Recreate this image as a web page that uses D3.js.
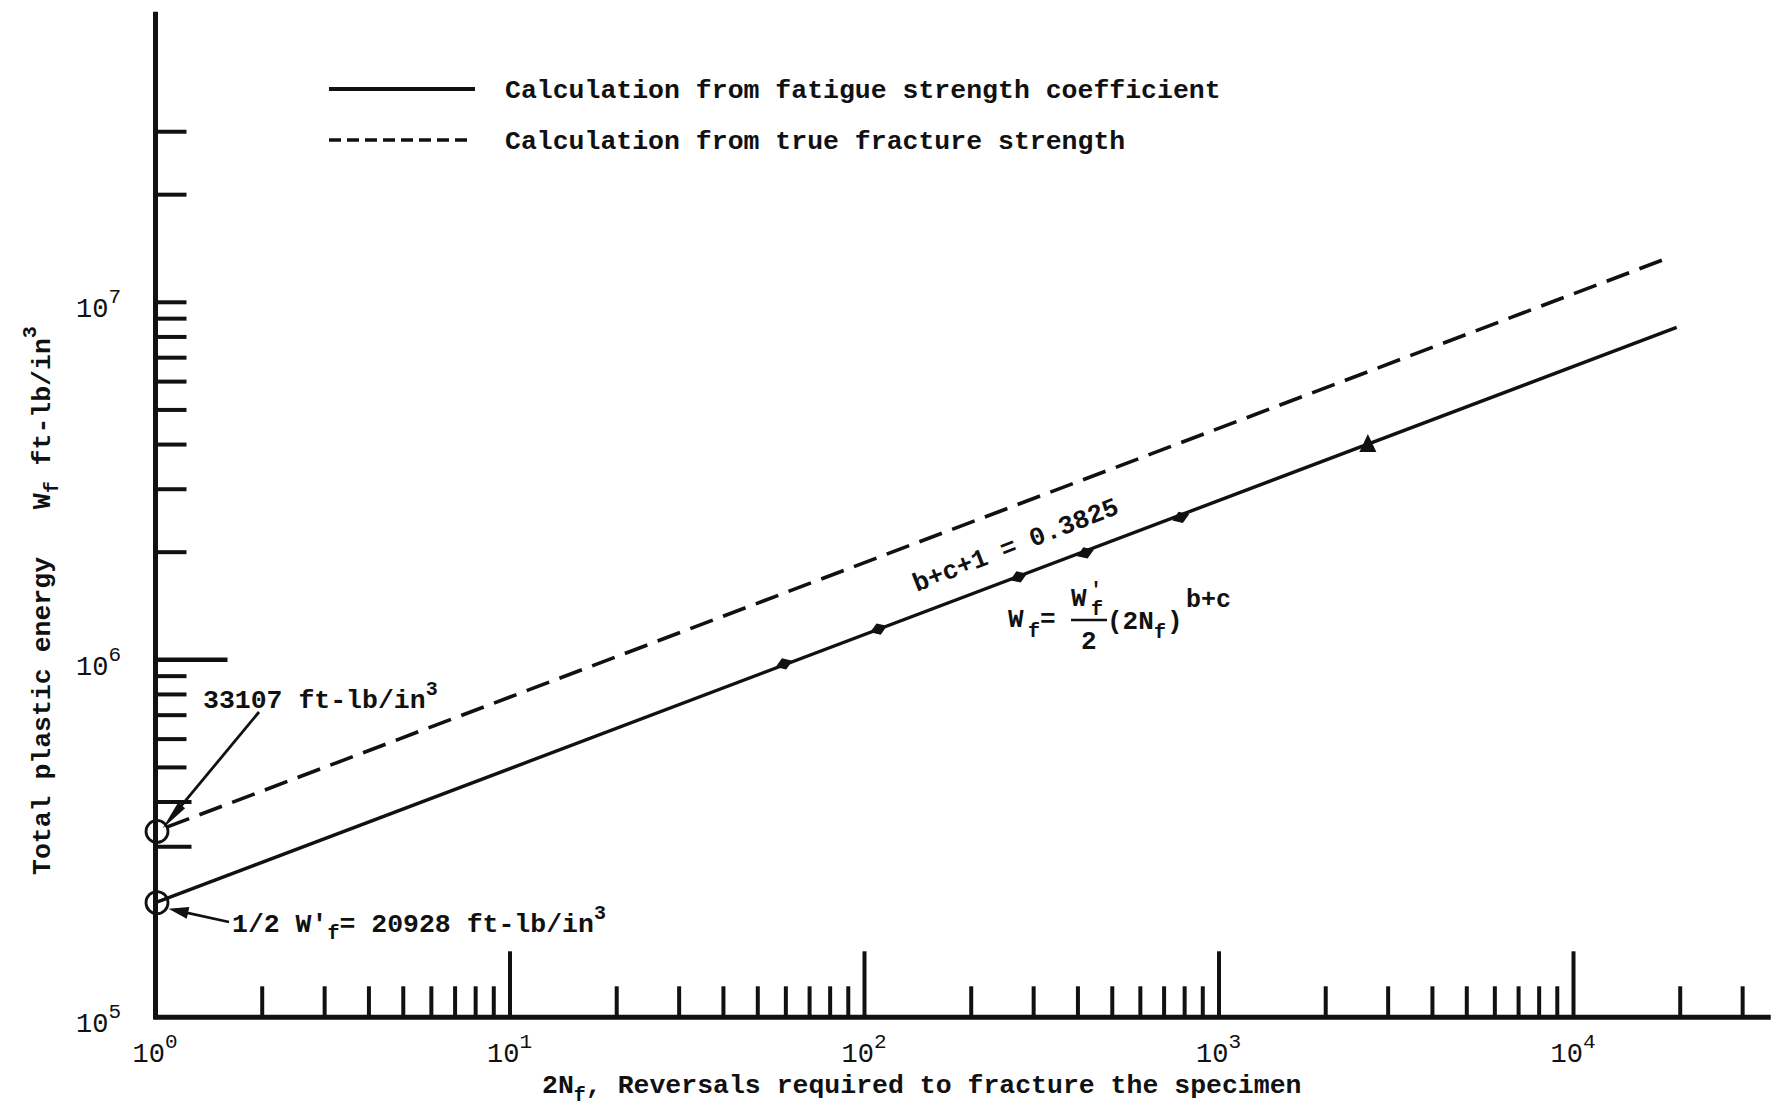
<!DOCTYPE html>
<html>
<head>
<meta charset="utf-8">
<script src="https://cdn.jsdelivr.net/npm/d3@7"></script>
<style>
  html, body { margin: 0; padding: 0; background: #fff; }
  svg text { font-family: "Liberation Mono", "DejaVu Sans Mono", monospace; fill: #111; white-space: pre; }
</style>
</head>
<body>
<svg id="chart" width="1781" height="1107"></svg>
<script>
// ---------------- data ----------------
const legendLabels = ["Calculation from fatigue strength coefficient", "Calculation from true fracture strength"];

// solid line: calculation from fatigue strength coefficient
const solidN = [1, 19540];
const solidW = [209280, 8510000];
// dashed line: calculation from true fracture strength
const dashedN = [1, 18380];
const dashedW = [331070, 13280000];

// data points on the solid line
const pointN = [59.3, 109.6, 272, 420, 780, 2630];
const pointW = [974000, 1219000, 1705000, 1990000, 2503000, 4014000];
const pointShape = ["diamond", "diamond", "diamond", "diamond", "diamond", "triangle"];

// axis ticks
const xMajorTicks = [10, 100, 1000, 10000];
const xMinorTicks = [2, 3, 4, 5, 6, 7, 8, 9,
                     20, 30, 40, 50, 60, 70, 80, 90,
                     200, 300, 400, 500, 600, 700, 800, 900,
                     2000, 3000, 4000, 5000, 6000, 7000, 8000, 9000,
                     20000, 30000];
const xTickValues = [1, 10, 100, 1000, 10000];
const xTickExponents = ["0", "1", "2", "3", "4"];

const yLongTicks = [1000000];
const yTicks = [300000, 400000, 500000, 600000, 700000, 800000, 900000,
                2000000, 3000000, 4000000, 5000000, 6000000, 7000000, 8000000, 9000000,
                10000000, 20000000, 30000000];
const yTickValues = [100000, 1000000, 10000000];
const yTickExponents = ["5", "6", "7"];

const annotUpper = "33107 ft-lb/in";
const annotLowerA = "1/2 W'";
const annotLowerB = "= 20928 ft-lb/in";
const slopeLabel = "b+c+1 = 0.3825";
const xTitle = ["2N", "f", ", Reversals required to fracture the specimen"];
const yTitle = ["Total plastic energy   W", "f", " ft-lb/in", "3"];

// ---------------- scales ----------------
const svg = d3.select("#chart");
const x = d3.scaleLog().domain([1, 10000]).range([155.5, 1573.5]);
const y = d3.scaleLog().domain([100000, 10000000]).range([1017.3, 302.3]);
const xEnd = 36000;     // right end of the drawn x axis
const yEnd = 65000000;  // top end of the drawn y axis

const ink = "#111";

// ---------------- axes ----------------
svg.append("line")
  .attr("x1", x(1)).attr("x2", x(1))
  .attr("y1", y(100000) + 2).attr("y2", y(yEnd))
  .attr("stroke", ink).attr("stroke-width", 5);
svg.append("line")
  .attr("x1", x(1) - 2).attr("x2", x(xEnd))
  .attr("y1", y(100000)).attr("y2", y(100000))
  .attr("stroke", ink).attr("stroke-width", 5);

// x ticks (upward)
svg.selectAll(".xminor").data(xMinorTicks).enter().append("line")
  .attr("x1", d => x(d)).attr("x2", d => x(d))
  .attr("y1", y(100000)).attr("y2", y(100000) - 31)
  .attr("stroke", ink).attr("stroke-width", 4);
svg.selectAll(".xmajor").data(xMajorTicks).enter().append("line")
  .attr("x1", d => x(d)).attr("x2", d => x(d))
  .attr("y1", y(100000)).attr("y2", y(100000) - 66)
  .attr("stroke", ink).attr("stroke-width", 4);

// y ticks (rightward)
svg.selectAll(".ytick").data(yTicks).enter().append("line")
  .attr("x1", x(1)).attr("x2", d => x(1) + (d < 500000 ? 36 : 31))
  .attr("y1", d => y(d)).attr("y2", d => y(d))
  .attr("stroke", ink).attr("stroke-width", 4);
svg.selectAll(".ylong").data(yLongTicks).enter().append("line")
  .attr("x1", x(1)).attr("x2", x(1) + 72)
  .attr("y1", d => y(d)).attr("y2", d => y(d))
  .attr("stroke", ink).attr("stroke-width", 4.5);

// x tick labels
xTickValues.forEach((v, i) => {
  const t = svg.append("text")
    .attr("x", x(v) - 23).attr("y", y(100000) + 45)
    .attr("font-size", 27);
  t.append("tspan").text("10");
  t.append("tspan").attr("font-size", 21).attr("dy", -14).text(xTickExponents[i]);
});

// y tick labels
yTickValues.forEach((v, i) => {
  const t = svg.append("text")
    .attr("x", 76).attr("y", y(v) + 15)
    .attr("font-size", 27);
  t.append("tspan").text("10");
  t.append("tspan").attr("font-size", 21).attr("dy", -14).text(yTickExponents[i]);
});

// axis titles
{
  const t = svg.append("text").attr("x", 542).attr("y", 1093)
    .attr("font-size", 26.5).attr("font-weight", "bold");
  t.append("tspan").text(xTitle[0]);
  t.append("tspan").attr("font-size", 20).attr("dy", 8).text(xTitle[1]);
  t.append("tspan").attr("dy", -8).text(xTitle[2]);
}
{
  const t = svg.append("text")
    .attr("transform", "translate(50,875) rotate(-90)")
    .attr("font-size", 26.5).attr("font-weight", "bold");
  t.append("tspan").text(yTitle[0]);
  t.append("tspan").attr("font-size", 20).attr("dy", 8).text(yTitle[1]);
  t.append("tspan").attr("dy", -8).text(yTitle[2]);
  t.append("tspan").attr("font-size", 20).attr("dy", -14).text(yTitle[3]);
}

// ---------------- data lines ----------------
const line = d3.line().x(d => x(d[0])).y(d => y(d[1]));
svg.append("path")
  .datum(solidN.map((n, i) => [n, solidW[i]]))
  .attr("d", line).attr("fill", "none").attr("stroke", ink).attr("stroke-width", 3.4);
svg.append("path")
  .datum(dashedN.map((n, i) => [n, dashedW[i]]))
  .attr("d", line).attr("fill", "none").attr("stroke", ink).attr("stroke-width", 3.6)
  .attr("stroke-dasharray", "24,11").attr("stroke-dashoffset", -12);

// markers
const angle = Math.atan2(y(solidW[1]) - y(solidW[0]), x(solidN[1]) - x(solidN[0])) * 180 / Math.PI;
pointN.forEach((n, i) => {
  const px = x(n), py = y(pointW[i]);
  if (pointShape[i] === "triangle") {
    svg.append("path").attr("d", "M0,-10 L8.5,8 L-8.5,8 Z")
      .attr("transform", `translate(${px},${py})`).attr("fill", ink);
  } else {
    svg.append("path").attr("d", "M-9,0 L0,-6 L9,0 L0,6 Z")
      .attr("transform", `translate(${px},${py}) rotate(${angle})`).attr("fill", ink);
  }
});

// ---------------- legend ----------------
svg.append("line").attr("x1", 329).attr("x2", 475).attr("y1", 89).attr("y2", 89)
  .attr("stroke", ink).attr("stroke-width", 4);
svg.append("line").attr("x1", 329).attr("x2", 473).attr("y1", 140).attr("y2", 140)
  .attr("stroke", ink).attr("stroke-width", 3.5).attr("stroke-dasharray", "12,6");
svg.append("text").attr("x", 505).attr("y", 98).attr("font-size", 26.5).attr("font-weight", "bold").text(legendLabels[0]);
svg.append("text").attr("x", 505).attr("y", 149).attr("font-size", 26.5).attr("font-weight", "bold").text(legendLabels[1]);

// ---------------- annotations ----------------
// circles at the intercepts
[solidW[0], dashedW[0]].forEach(w => {
  svg.append("circle").attr("cx", x(1) + 1.5).attr("cy", y(w)).attr("r", 11)
    .attr("fill", "none").attr("stroke", ink).attr("stroke-width", 2.8);
});

function arrow(x1, y1, x2, y2, headLen, headHalf) {
  const dx = x2 - x1, dy = y2 - y1, L = Math.hypot(dx, dy);
  const ux = dx / L, uy = dy / L;
  svg.append("line").attr("x1", x1).attr("y1", y1)
    .attr("x2", x2 - ux * headLen * 0.5).attr("y2", y2 - uy * headLen * 0.5)
    .attr("stroke", ink).attr("stroke-width", 2.8);
  const bx = x2 - ux * headLen, by = y2 - uy * headLen;
  svg.append("path")
    .attr("d", `M${x2},${y2} L${bx - uy * headHalf},${by + ux * headHalf} L${bx + uy * headHalf},${by - ux * headHalf} Z`)
    .attr("fill", ink);
}
arrow(259, 712, x(1) + 7, y(dashedW[0]) - 3, 30, 4.5);
arrow(229, 922, x(1) + 13, y(solidW[0]) + 6, 20, 6);

{
  const t = svg.append("text").attr("x", 203).attr("y", 708).attr("font-size", 26.5).attr("font-weight", "bold");
  t.append("tspan").text(annotUpper);
  t.append("tspan").attr("font-size", 20).attr("dy", -13).text("3");
}
{
  const t = svg.append("text").attr("x", 232).attr("y", 932).attr("font-size", 26.5).attr("font-weight", "bold");
  t.append("tspan").text(annotLowerA);
  t.append("tspan").attr("font-size", 20).attr("dy", 7).text("f");
  t.append("tspan").attr("dy", -7).text(annotLowerB);
  t.append("tspan").attr("font-size", 20).attr("dy", -13).text("3");
}

// slope label along the line
svg.append("text")
  .attr("transform", `translate(1016,546) rotate(${angle - 0.5})`)
  .attr("text-anchor", "middle").attr("dominant-baseline", "central")
  .attr("font-size", 26).attr("font-weight", "bold").text(slopeLabel);

// formula W_f = W'_f / 2 (2N_f)^(b+c)
{
  const g = svg.append("g").attr("font-weight", "bold");
  const tx = (xx, yy, s, fs) => g.append("text").attr("x", xx).attr("y", yy).attr("font-size", fs).text(s);
  tx(1008, 627, "W", 26);
  tx(1028, 637, "f", 20);
  tx(1040, 627, "=", 26);
  tx(1071, 606, "W", 26);
  tx(1090, 596, "'", 20);
  tx(1091, 615, "f", 20);
  g.append("line").attr("x1", 1071).attr("x2", 1107).attr("y1", 620).attr("y2", 620)
    .attr("stroke", ink).attr("stroke-width", 2.5);
  tx(1081, 649, "2", 26);
  tx(1107, 629, "(2N", 26);
  tx(1154, 638, "f", 20);
  tx(1167, 629, ")", 26);
  tx(1186, 607, "b+c", 25);
}
</script>
</body>
</html>
